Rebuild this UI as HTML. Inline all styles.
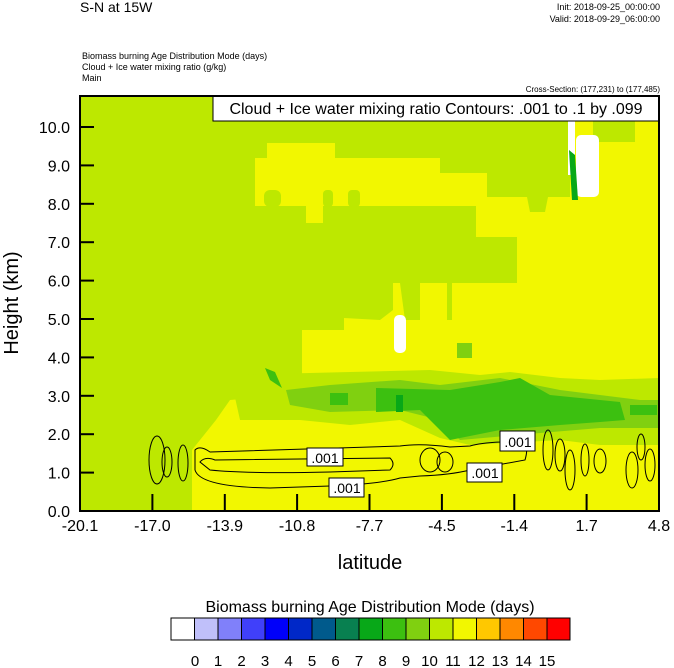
<!DOCTYPE html>
<html><head><meta charset="utf-8"><style>
body{margin:0;background:#fff;width:674px;height:668px;overflow:hidden}
svg{display:block;font-family:"Liberation Sans",sans-serif}
</style></head><body>
<svg width="674" height="668" viewBox="0 0 674 668">
<text x="80" y="12" font-size="14">S-N at 15W</text>
<text x="660" y="10" font-size="9" text-anchor="end">Init: 2018-09-25_00:00:00</text>
<text x="660" y="22" font-size="9" text-anchor="end">Valid: 2018-09-29_06:00:00</text>
<text x="82" y="59" font-size="9">Biomass burning Age Distribution Mode   (days)</text>
<text x="82" y="70" font-size="9">Cloud + Ice water mixing ratio   (g/kg)</text>
<text x="82" y="81" font-size="9">Main</text>
<text x="660" y="92" font-size="8" text-anchor="end">Cross-Section: (177,231) to (177,485)</text>
<defs><clipPath id="c"><rect x="80" y="96" width="579" height="415"/></clipPath></defs>
<g clip-path="url(#c)">
<rect x="80" y="96" width="579" height="415" fill="#f2f700"/>
<polygon fill="#bde800" points="80,96 570,96 570,197 548,197 545,212 530,212 527,197 487,197 487,173 440,173 440,158 335,158 335,143 267,143 267,158 255,158 255,206 306,206 306,223 476,223 476,237 517,237 517,283 452,283 452,320 447,320 447,283 420,283 420,320 405,320 400,283 393,283 393,310 380,320 344,318 344,330 302,330 302,380 290,395 230,400 216,420 200,440 192,450 192,511 80,511"/>
<rect x="323" y="206" width="153" height="18" fill="#bde800"/>
<rect x="264" y="190" width="17" height="17" rx="6" fill="#bde800"/>
<rect x="323" y="190" width="10" height="17" rx="4" fill="#bde800"/>
<rect x="348" y="190" width="12" height="17" rx="4" fill="#bde800"/>
<polygon fill="#bde800" points="593,120 635,120 635,142 593,142"/>
<polygon fill="#bde800" points="230,375 350,372 430,370 480,375 510,372 560,378 600,380 659,378 659,445 600,445 560,440 470,445 440,438 400,420 350,425 300,420 240,420"/>
<polygon fill="#80d010" points="286,390 330,385 400,380 440,385 500,378 560,390 600,395 640,400 659,400 659,428 600,428 540,433 460,440 440,420 400,410 330,412 290,405"/>
<polygon fill="#3cc010" points="376,388 450,390 500,382 520,378 550,395 620,402 625,420 600,422 560,425 500,430 450,440 440,430 420,410 376,412"/>
<rect x="630" y="405" width="27" height="10" fill="#3cc010"/>
<rect x="330" y="393" width="18" height="12" fill="#3cc010"/>
<rect x="396" y="395" width="7" height="17" fill="#08a818"/>
<rect x="457" y="343" width="15" height="15" fill="#80d010"/>
<rect x="394" y="315" width="12" height="38" rx="5" fill="#fff"/>
<rect x="568" y="120" width="7" height="55" fill="#fff"/>
<rect x="576" y="135" width="23" height="62" rx="5" fill="#fff"/>
<polygon fill="#08a818" points="569,150 575,155 578,200 572,200"/>
<polygon fill="#3cc010" points="265,368 275,372 282,388 270,380"/>
</g>
<g fill="none" stroke="#000" stroke-width="1">
<path d="M195,450 Q200,445 210,452 L400,446 Q420,443 450,447 L470,446 Q480,443 500,442 L520,440 Q530,443 525,460 L470,470 Q450,475 420,476 L400,478 Q380,484 330,486 L270,488 Q200,487 195,470 Z"/>
<path d="M200,462 Q205,456 215,460 L390,458 Q396,464 390,470 L330,472 Q250,474 210,470 Z"/>
<ellipse cx="157" cy="460" rx="8" ry="24"/>
<ellipse cx="167" cy="462" rx="5" ry="15"/>
<ellipse cx="183" cy="463" rx="5" ry="18"/>
<ellipse cx="430" cy="460" rx="10" ry="12"/>
<ellipse cx="445" cy="462" rx="8" ry="10"/>
<ellipse cx="548" cy="450" rx="5" ry="20"/>
<ellipse cx="560" cy="455" rx="5" ry="16"/>
<ellipse cx="570" cy="470" rx="5" ry="20"/>
<ellipse cx="585" cy="460" rx="4" ry="16"/>
<ellipse cx="600" cy="461" rx="6" ry="12"/>
<ellipse cx="641" cy="447" rx="4" ry="13"/>
<ellipse cx="632" cy="470" rx="6" ry="18"/>
<ellipse cx="650" cy="465" rx="5" ry="16"/>
</g>
<g font-size="14" text-anchor="middle">
<rect x="307" y="448" width="36" height="18" fill="#fff" stroke="#000"/><text x="325" y="463">.001</text>
<rect x="329" y="478" width="35" height="19" fill="#fff" stroke="#000"/><text x="347" y="493">.001</text>
<rect x="467" y="463" width="35" height="19" fill="#fff" stroke="#000"/><text x="485" y="478">.001</text>
<rect x="500" y="431" width="35" height="20" fill="#fff" stroke="#000"/><text x="518" y="447">.001</text>
</g>
<rect x="213" y="96" width="446" height="25" fill="#fff" stroke="#000"/>
<text x="436" y="114" font-size="16" text-anchor="middle">Cloud + Ice water mixing ratio Contours: .001 to .1 by .099</text>
<rect x="80" y="96" width="579" height="415" fill="none" stroke="#000" stroke-width="2"/>
<g stroke="#000" stroke-width="2">
<line x1="80" y1="472.6" x2="94" y2="472.6"/><line x1="80" y1="434.2" x2="94" y2="434.2"/><line x1="80" y1="395.8" x2="94" y2="395.8"/><line x1="80" y1="357.4" x2="94" y2="357.4"/><line x1="80" y1="319" x2="94" y2="319"/><line x1="80" y1="280.6" x2="94" y2="280.6"/><line x1="80" y1="242.2" x2="94" y2="242.2"/><line x1="80" y1="203.8" x2="94" y2="203.8"/><line x1="80" y1="165.4" x2="94" y2="165.4"/><line x1="80" y1="127" x2="94" y2="127"/>
<line x1="152.4" y1="511" x2="152.4" y2="494"/><line x1="224.8" y1="511" x2="224.8" y2="494"/><line x1="297.1" y1="511" x2="297.1" y2="494"/><line x1="369.5" y1="511" x2="369.5" y2="494"/><line x1="441.9" y1="511" x2="441.9" y2="494"/><line x1="514.3" y1="511" x2="514.3" y2="494"/><line x1="586.6" y1="511" x2="586.6" y2="494"/>
</g>
<g font-size="16" text-anchor="end">
<text x="70" y="517">0.0</text><text x="70" y="478.6">1.0</text><text x="70" y="440.2">2.0</text><text x="70" y="401.8">3.0</text><text x="70" y="363.4">4.0</text><text x="70" y="325">5.0</text><text x="70" y="286.6">6.0</text><text x="70" y="248.2">7.0</text><text x="70" y="209.8">8.0</text><text x="70" y="171.4">9.0</text><text x="70" y="133">10.0</text>
</g>
<g font-size="16" text-anchor="middle">
<text x="80" y="531">-20.1</text><text x="152.4" y="531">-17.0</text><text x="224.8" y="531">-13.9</text><text x="297.1" y="531">-10.8</text><text x="369.5" y="531">-7.7</text><text x="441.9" y="531">-4.5</text><text x="514.3" y="531">-1.4</text><text x="586.6" y="531">1.7</text><text x="659" y="531">4.8</text>
</g>
<text x="370" y="569" font-size="20" text-anchor="middle">latitude</text>
<text transform="translate(18,303) rotate(-90)" font-size="20" text-anchor="middle">Height (km)</text>
<text x="370" y="612" font-size="16" text-anchor="middle">Biomass burning Age Distribution Mode  (days)</text>
<g stroke="#000" stroke-width="1">
<rect x="171" y="618" width="23.5" height="22" fill="#fff"/>
<rect x="194.5" y="618" width="23.5" height="22" fill="#c0c0fa"/>
<rect x="218" y="618" width="23.5" height="22" fill="#8080fa"/>
<rect x="241.5" y="618" width="23.5" height="22" fill="#4040fa"/>
<rect x="265" y="618" width="23.5" height="22" fill="#0000fa"/>
<rect x="288.5" y="618" width="23.5" height="22" fill="#0028c8"/>
<rect x="312" y="618" width="23.5" height="22" fill="#005a8c"/>
<rect x="335.5" y="618" width="23.5" height="22" fill="#088050"/>
<rect x="359" y="618" width="23.5" height="22" fill="#08a818"/>
<rect x="382.5" y="618" width="23.5" height="22" fill="#3cc010"/>
<rect x="406" y="618" width="23.5" height="22" fill="#80d010"/>
<rect x="429.5" y="618" width="23.5" height="22" fill="#bde800"/>
<rect x="453" y="618" width="23.5" height="22" fill="#f2f700"/>
<rect x="476.5" y="618" width="23.5" height="22" fill="#ffc800"/>
<rect x="500" y="618" width="23.5" height="22" fill="#ff8800"/>
<rect x="523.5" y="618" width="23.5" height="22" fill="#ff4800"/>
<rect x="547" y="618" width="23" height="22" fill="#ff0000"/>
</g>
<g font-size="15" text-anchor="middle">
<text x="195" y="666">0</text><text x="218" y="666">1</text><text x="241.5" y="666">2</text><text x="265" y="666">3</text><text x="288.5" y="666">4</text><text x="312" y="666">5</text><text x="335.5" y="666">6</text><text x="359" y="666">7</text><text x="382.5" y="666">8</text><text x="406" y="666">9</text><text x="429.5" y="666">10</text><text x="453" y="666">11</text><text x="476.5" y="666">12</text><text x="500" y="666">13</text><text x="523.5" y="666">14</text><text x="547" y="666">15</text>
</g>
</svg>
</body></html>
